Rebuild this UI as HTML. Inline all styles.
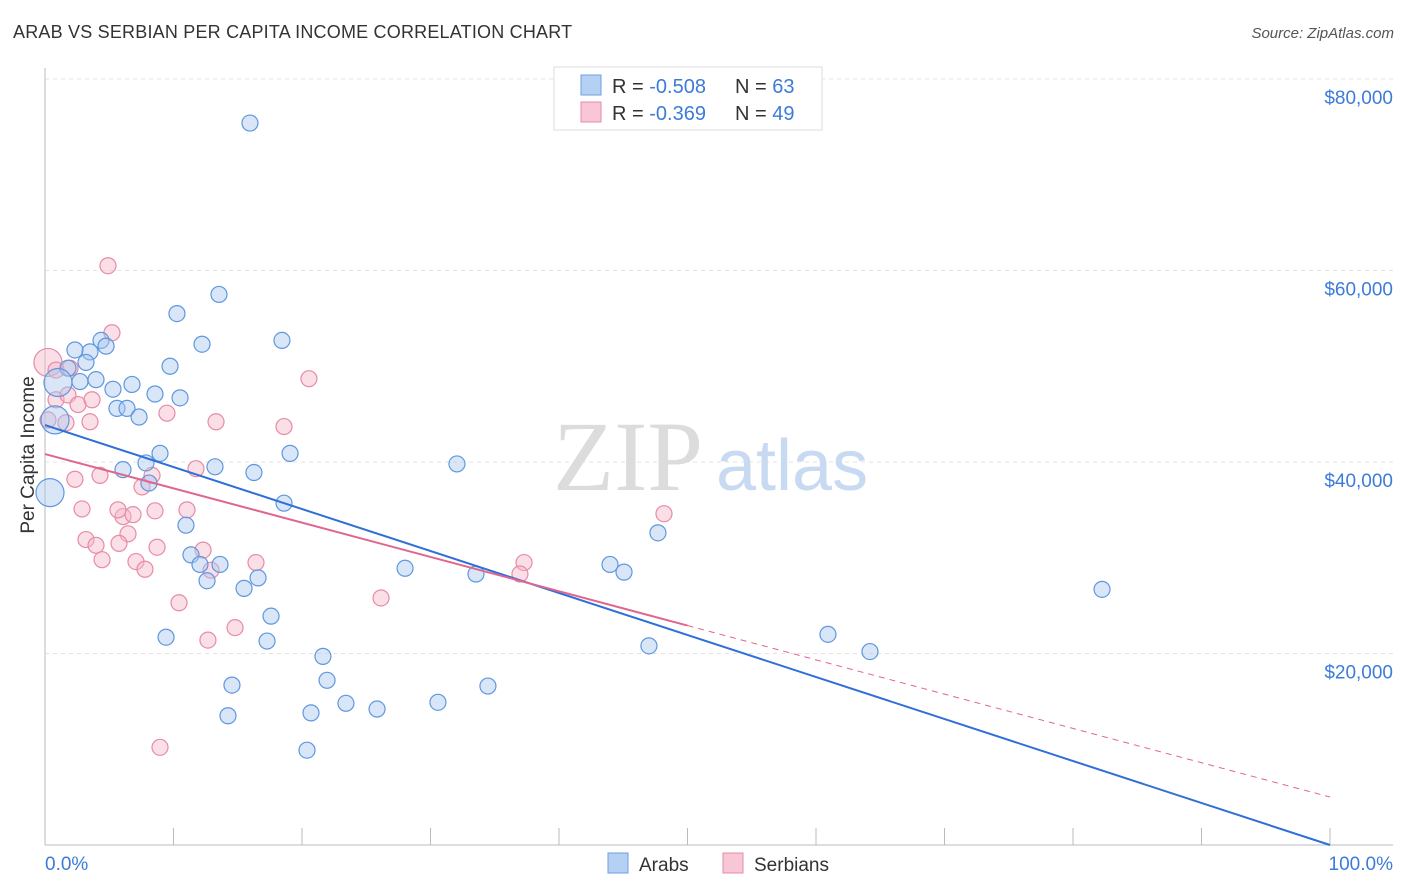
<!DOCTYPE html>
<html><head><meta charset="utf-8"><style>
body{margin:0;background:#fff;font-family:"Liberation Sans",sans-serif;}
#wrap{position:relative;width:1406px;height:892px;overflow:hidden;}
</style></head><body>
<div id="wrap">
<div style="position:absolute;left:13px;top:22px;font-size:18px;color:#333;letter-spacing:0.2px">ARAB VS SERBIAN PER CAPITA INCOME CORRELATION CHART</div>
<div style="position:absolute;right:12px;top:25px;font-size:15px;color:#555;font-style:italic">Source: ZipAtlas.com</div>
<svg id="svg" width="1406" height="892" style="position:absolute;left:0;top:0"></svg>
</div>
<script>
const yTicks=[20000,40000,60000,80000];
const yTickLabels=["$20,000","$40,000","$60,000","$80,000"];
const arabX=[15.95,13.54,10.27,18.44,12.22,4.36,3.50,4.75,2.33,3.19,1.79,9.73,1.01,2.72,3.97,6.77,5.29,8.56,10.51,5.60,6.38,7.32,0.78,8.95,19.07,32.06,7.86,13.23,6.07,16.26,8.09,18.60,10.97,47.70,11.36,12.06,13.62,12.61,16.58,15.49,43.97,45.06,28.02,33.54,82.26,17.59,9.42,17.28,47.00,60.93,64.20,21.63,21.95,14.55,34.47,23.42,30.58,25.84,14.24,20.70,20.39,0.39];
const arabY=[75.4,57.5,55.5,52.7,52.3,52.7,51.5,52.1,51.7,50.4,49.8,50.0,48.3,48.4,48.6,48.1,47.6,47.1,46.7,45.6,45.6,44.7,44.4,40.9,40.9,39.8,39.9,39.5,39.2,38.9,37.8,35.7,33.4,32.6,30.3,29.3,29.3,27.6,27.9,26.8,29.3,28.5,28.9,28.3,26.7,23.9,21.7,21.3,20.8,22.0,20.2,19.7,17.2,16.7,16.6,14.8,14.9,14.2,13.5,13.8,9.9,36.8];
const arabBig=[12,22,61];
const serbX=[4.90,5.21,0.23,0.86,1.95,20.54,0.86,1.79,2.57,3.66,3.50,1.63,0.23,9.49,13.31,18.60,11.75,8.33,2.33,4.28,7.55,2.88,6.07,6.46,5.68,6.85,8.56,11.05,48.17,3.19,3.97,5.76,8.72,12.30,4.44,7.08,7.78,16.42,37.28,36.96,12.92,10.43,26.15,14.79,12.68,8.95];
const serbY=[60.5,53.5,50.4,49.6,49.8,48.7,46.5,47.0,46.0,46.5,44.2,44.1,44.4,45.1,44.2,43.7,39.3,38.6,38.2,38.6,37.4,35.1,34.3,32.5,35.0,34.5,34.9,35.0,34.6,31.9,31.3,31.5,31.1,30.8,29.8,29.6,28.8,29.5,29.5,28.3,28.7,25.3,25.8,22.7,21.4,10.2];
const serbBig=[2];
const arabLine=[43.86,0];       // value at x=0 and x=100 (thousands)
const serbLine=[40.83,5.01];
const serbSolidEnd=50;
const X=v=>45+v*12.85;
const Y=v=>845-v*1000*0.009575;
const NS="http://www.w3.org/2000/svg";
const svg=document.getElementById('svg');
function mk(t,a,p){const e=document.createElementNS(NS,t);for(const k in a)e.setAttribute(k,a[k]);(p||svg).appendChild(e);return e;}
// gridlines
yTicks.forEach((t,i)=>{
 const g=mk('line',{x1:45,x2:1393,y1:Y(t/1000),y2:Y(t/1000),stroke:'#e3e3e3','stroke-dasharray':'4,4'});
 
 
 const tx=mk('text',{x:1393,y:Y(t/1000)+25,'text-anchor':'end','font-size':19,fill:'#3d7bd9'});
 tx.textContent=yTickLabels[i];
 
 
});
mk('line',{x1:45,x2:1393,y1:79,y2:79,stroke:'#e3e3e3','stroke-dasharray':'4,4'});
// axes
mk('line',{x1:45,x2:45,y1:68,y2:845,stroke:'#bbb'});
mk('line',{x1:45,x2:1393,y1:845,y2:845,stroke:'#bbb'});
for(let i=1;i<=10;i++){mk('line',{x1:X(i*10),x2:X(i*10),y1:828,y2:845,stroke:'#bbb'});}
// watermark
let w=mk('text',{x:553,y:490,'font-size':100,fill:'#dcdcdc','font-family':'Liberation Serif,serif'});w.textContent='ZIP';

w=mk('text',{x:716,y:490,'font-size':72,fill:'#c8daf2'});w.textContent='atlas';

// points
function dots(xs,ys,big,fill,stroke,name){
 xs.forEach((x,i)=>{const r=big.includes(i)?14:8;
  const c=mk('circle',{cx:X(x),cy:Y(ys[i]),r:r,fill:fill,'fill-opacity':0.45,stroke:stroke,'stroke-width':1.2});
  
  });
}
dots(serbX,serbY,serbBig,'#f5b7ca','#e88aa8','serbian-point');
dots(arabX,arabY,arabBig,'#a9c8f0','#5f97de','arab-point');
// trend lines
let l=mk('line',{x1:X(0),y1:Y(arabLine[0]),x2:X(100),y2:Y(arabLine[1]),stroke:'#2f6fd8','stroke-width':2});

const sm=serbLine[0]+(serbLine[1]-serbLine[0])*serbSolidEnd/100;
l=mk('line',{x1:X(0),y1:Y(serbLine[0]),x2:X(serbSolidEnd),y2:Y(sm),stroke:'#e0668e','stroke-width':2});

l=mk('line',{x1:X(serbSolidEnd),y1:Y(sm),x2:X(100),y2:Y(serbLine[1]),stroke:'#e0668e','stroke-width':1,'stroke-dasharray':'6,5'});

// x labels
let t=mk('text',{x:45,y:870,'font-size':19,fill:'#3d7bd9'});t.textContent='0.0%';

t=mk('text',{x:1393,y:870,'text-anchor':'end','font-size':19,fill:'#3d7bd9'});t.textContent='100.0%';

t=mk('text',{x:0,y:0,'font-size':19,fill:'#333',transform:'translate(34,455) rotate(-90)','text-anchor':'middle'});t.textContent='Per Capita Income';

// legend box
const lg=mk('g',{});
mk('rect',{x:554,y:67,width:268,height:63,fill:'#fff',stroke:'#ddd'},lg);
mk('rect',{x:581,y:75,width:20,height:20,fill:'#b5d0f3',stroke:'#6a9fe0'},lg);
mk('rect',{x:581,y:102,width:20,height:20,fill:'#f8c7d5',stroke:'#e88aa8'},lg);
[[93,'-0.508','63'],[120,'-0.369','49']].forEach(r=>{
 const a=mk('text',{x:612,y:r[0],'font-size':20,fill:'#333'},lg);
 a.innerHTML='R = <tspan fill="#3d7bd9">'+r[1]+'</tspan>';
 const b=mk('text',{x:735,y:r[0],'font-size':20,fill:'#333'},lg);
 b.innerHTML='N = <tspan fill="#3d7bd9">'+r[2]+'</tspan>';
});
// bottom legend
const bl=mk('g',{});
mk('rect',{x:608,y:853,width:20,height:20,fill:'#b5d0f3',stroke:'#6a9fe0'},bl);
t=mk('text',{x:639,y:871,'font-size':19,fill:'#333'},bl);t.textContent='Arabs';
mk('rect',{x:723,y:853,width:20,height:20,fill:'#f8c7d5',stroke:'#e88aa8'},bl);
t=mk('text',{x:754,y:871,'font-size':19,fill:'#333'},bl);t.textContent='Serbians';
</script>
</body></html>
